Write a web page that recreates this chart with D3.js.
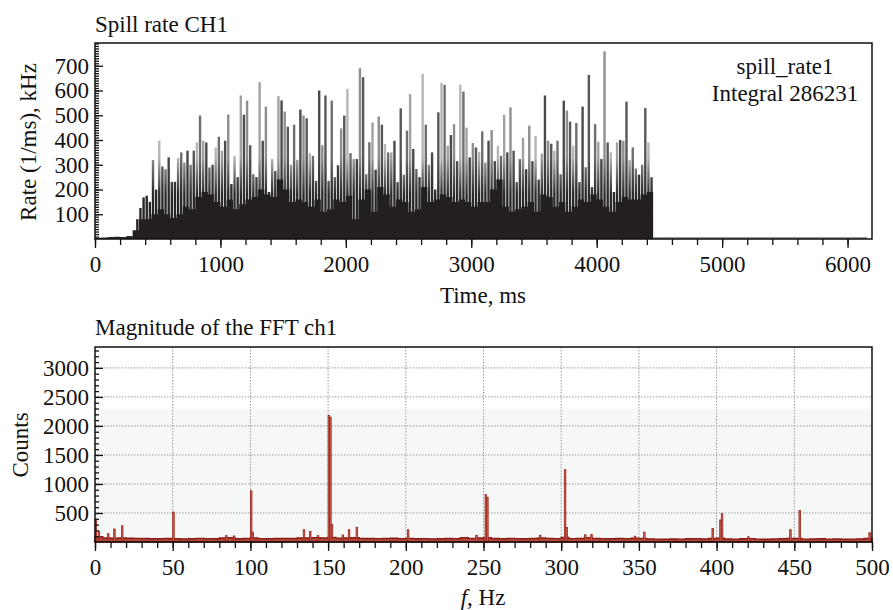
<!DOCTYPE html>
<html>
<head>
<meta charset="utf-8">
<script src="https://cdn.jsdelivr.net/npm/d3@7"></script>
<style>
  body { margin: 0; background: #fff; }
  svg text { font-family: "Liberation Serif", "Times New Roman", serif; fill: #111; }
</style>
</head>
<body>
<div id="chart"></div>
<script>
// ---- spill rate CH1 (kHz) ----
// max rate in each 25 ms bin, starting at 300 ms
const spillStart = 300, spillBin = 25;
const spillPeak = [
  30, 80, 125, 168, 175, 150, 319, 200, 397, 293, 282, 330, 231, 231, 327, 350, 309, 357, 300, 357,
  391, 499, 397, 390, 289, 300, 370, 413, 357, 397, 503, 222, 336, 250, 580, 502, 559, 379, 262, 250,
  634, 397, 535, 190, 323, 275, 577, 560, 515, 454, 300, 462, 320, 523, 499, 488, 347, 336, 235, 600,
  379, 580, 235, 559, 250, 298, 447, 499, 607, 347, 323, 323, 690, 654, 262, 391, 471, 280, 495, 462,
  384, 350, 350, 397, 230, 528, 260, 438, 586, 364, 283, 250, 667, 462, 300, 350, 200, 512, 631, 623,
  377, 420, 464, 315, 624, 596, 450, 330, 388, 370, 352, 435, 309, 397, 440, 315, 377, 336, 502, 350,
  532, 357, 230, 323, 409, 282, 458, 315, 417, 240, 345, 580, 397, 385, 357, 397, 262, 559, 519, 474,
  377, 469, 230, 535, 290, 663, 210, 464, 393, 323, 758, 390, 350, 190, 391, 400, 397, 555, 320, 370,
  285, 260, 300, 529, 390, 250
];
// dark body of the spill, 50 ms bins from 300 ms
const coreBin = 50;
const spillCore = [
  35, 80, 80, 100, 120, 100, 85, 100, 130, 120, 170, 190, 180, 150, 130, 160, 120, 140, 160, 170,
  200, 180, 170, 240, 200, 150, 160, 150, 130, 160, 110, 120, 160, 150, 175, 80, 160, 200, 110, 210,
  180, 130, 160, 150, 110, 120, 210, 150, 160, 180, 170, 150, 160, 150, 130, 150, 150, 200, 240, 130,
  110, 120, 130, 150, 110, 180, 170, 130, 150, 110, 130, 160, 150, 180, 160, 130, 110, 150, 170, 160,
  160, 180, 190
];
// before the spill, 50 ms bins from 0 ms
const preSpill = [5, 6, 8, 9, 8, 12];
const postSpill = 4, postSpillEnd = 6155;
const rateTicks = [100, 200, 300, 400, 500, 600, 700];
const timeTicks = [0, 1000, 2000, 3000, 4000, 5000, 6000];
const histName = "spill_rate1", histIntegral = 286231;

// ---- FFT magnitude ch1 ----
// floor of the spectrum, 5 Hz steps
const fftStep = 5;
const fftBase = [
  90, 70, 65, 70, 65, 62, 60, 55, 58, 60, 55, 52, 55, 62, 58, 55, 70, 72, 55, 60,
  70, 58, 55, 60, 62, 60, 68, 70, 75, 70, 80, 65, 70, 72, 62, 60, 58, 60, 65, 58,
  62, 55, 58, 52, 55, 60, 58, 72, 62, 70, 75, 60, 55, 62, 58, 55, 60, 70, 62, 58,
  80, 58, 62, 75, 62, 58, 55, 60, 58, 65, 62, 52, 50, 48, 52, 50, 55, 58, 52, 60,
  65, 52, 50, 55, 58, 50, 48, 52, 55, 60, 62, 50, 52, 55, 50, 52, 48, 50, 52, 60
];
// single-bin lines (Hz, counts)
const peakFreq = [0, 2, 8, 12, 17, 50, 84, 89, 100, 101, 134, 138, 143, 150, 151, 152, 159, 163, 168, 201,
  245, 251, 252, 286, 302, 303, 315, 319, 347, 353, 397, 402, 403, 420, 447, 453, 498];
const peakCounts = [384, 180, 143, 224, 281, 517, 110, 105, 884, 170, 212, 180, 110, 2178, 2150, 300, 120, 212, 253, 212,
  115, 816, 770, 115, 1247, 250, 125, 130, 100, 170, 233, 380, 488, 90, 212, 545, 160];
const countTicks = [500, 1000, 1500, 2000, 2500, 3000];
const freqTicks = [0, 50, 100, 150, 200, 250, 300, 350, 400, 450, 500];

const W = 893, H = 610;
const svg = d3.select("#chart").append("svg").attr("width", W).attr("height", H);

// ================= top panel =================
let p1 = {left: 95, right: 872, top: 43, bottom: 239};
let x1 = d3.scaleLinear().domain([0, 6195]).range([p1.left, p1.right]);
let y1 = d3.scaleLinear().domain([0, 792]).range([p1.bottom, p1.top]);

// overlapping 1 ms bins look dark near the floor and grey on the tips
let greys = ["#8e8e8e", "#575757", "#b6b6b6", "#6e6e6e", "#a2a2a2", "#4a4a4a"];
let defs = svg.append("defs");
greys.forEach(function (g, i) {
  let grad = defs.append("linearGradient")
    .attr("id", "spike" + i)
    .attr("gradientUnits", "userSpaceOnUse")
    .attr("x1", 0).attr("x2", 0)
    .attr("y1", y1(0)).attr("y2", y1(792));
  grad.append("stop").attr("offset", 0).attr("stop-color", "#231f20");
  grad.append("stop").attr("offset", 180 / 792).attr("stop-color", "#2b2829");
  grad.append("stop").attr("offset", 330 / 792).attr("stop-color", g);
  grad.append("stop").attr("offset", 1).attr("stop-color", g);
});

svg.append("g").selectAll("line")
  .data(spillPeak)
  .enter().append("line")
  .attr("x1", (d, i) => x1(spillStart + (i + 0.5) * spillBin))
  .attr("x2", (d, i) => x1(spillStart + (i + 0.5) * spillBin))
  .attr("y1", y1(0))
  .attr("y2", d => y1(d))
  .attr("stroke", (d, i) => "url(#spike" + (i % greys.length) + ")")
  .attr("stroke-width", 2.4);

let stepArea = d3.area()
  .curve(d3.curveStepAfter)
  .x(d => x1(d[0]))
  .y0(y1(0))
  .y1(d => y1(d[1]));

let corePts = spillCore.map((v, i) => [spillStart + i * coreBin, v]);
corePts.push([spillStart + spillCore.length * coreBin, 0]);
svg.append("path").datum(corePts)
  .attr("d", stepArea)
  .attr("fill", "#231f20");

let prePts = preSpill.map((v, i) => [i * coreBin, v]);
prePts.push([preSpill.length * coreBin, preSpill[preSpill.length - 1]]);
svg.append("path").datum(prePts)
  .attr("d", stepArea)
  .attr("fill", "#2a2a2a");

svg.append("line")
  .attr("x1", x1(spillStart + spillCore.length * coreBin)).attr("x2", x1(postSpillEnd))
  .attr("y1", y1(postSpill)).attr("y2", y1(postSpill))
  .attr("stroke", "#777").attr("stroke-width", 1.5);

// axes
svg.append("g").attr("transform", "translate(0," + p1.bottom + ")")
  .call(d3.axisBottom(x1).tickValues(d3.range(0, 6195, 200)).tickSize(6).tickFormat(""));
svg.append("g").attr("transform", "translate(0," + p1.bottom + ")")
  .call(d3.axisBottom(x1).tickValues(timeTicks).tickSize(9).tickPadding(8).tickFormat(d3.format("d")));
svg.append("g").attr("transform", "translate(" + p1.left + ",0)")
  .call(d3.axisLeft(y1).tickValues(d3.range(10, 792, 10)).tickSizeInner(-4).tickSizeOuter(0).tickFormat(""));
svg.append("g").attr("transform", "translate(" + p1.left + ",0)")
  .call(d3.axisLeft(y1).tickValues(rateTicks).tickSizeInner(-8).tickSizeOuter(0).tickPadding(6).tickFormat(d3.format("d")));

svg.append("rect")
  .attr("x", p1.left).attr("y", p1.top)
  .attr("width", p1.right - p1.left).attr("height", p1.bottom - p1.top)
  .attr("fill", "none").attr("stroke", "#111").attr("stroke-width", 1.5);

svg.append("text").attr("x", 95).attr("y", 32).style("font-size", "23px").text("Spill rate CH1");
svg.append("text").attr("x", 785).attr("y", 74).attr("text-anchor", "middle").style("font-size", "23px").text(histName);
svg.append("text").attr("x", 785).attr("y", 101).attr("text-anchor", "middle").style("font-size", "23px").text("Integral " + histIntegral);
svg.append("text").attr("x", 483).attr("y", 303).attr("text-anchor", "middle").style("font-size", "23px").text("Time, ms");
svg.append("text").attr("transform", "translate(36,142) rotate(-90)").attr("text-anchor", "middle")
  .style("font-size", "23px").text("Rate (1/ms), kHz");

// ================= bottom panel =================
let p2 = {left: 95, right: 872, top: 347, bottom: 542};
let x2 = d3.scaleLinear().domain([0, 500]).range([p2.left, p2.right]);
let y2 = d3.scaleLinear().domain([0, 3360]).range([p2.bottom, p2.top]);

svg.append("rect")
  .attr("x", p2.left).attr("y", y2(2290))
  .attr("width", p2.right - p2.left).attr("height", y2(0) - y2(2290))
  .attr("fill", "#f5f8f7");

// grid
svg.append("g").selectAll("line")
  .data(freqTicks.filter(f => f > 0 && f < 500))
  .enter().append("line")
  .attr("x1", d => x2(d)).attr("x2", d => x2(d))
  .attr("y1", p2.top).attr("y2", p2.bottom)
  .attr("stroke", "#9a9a9a").attr("stroke-width", 1).attr("stroke-dasharray", "1.5,1.5");
svg.append("g").selectAll("line")
  .data(countTicks)
  .enter().append("line")
  .attr("x1", p2.left).attr("x2", p2.right)
  .attr("y1", d => y2(d)).attr("y2", d => y2(d))
  .attr("stroke", "#9a9a9a").attr("stroke-width", 1).attr("stroke-dasharray", "1.5,1.5");

let basePts = fftBase.map((v, i) => [i * fftStep, v]);
basePts.push([500, fftBase[fftBase.length - 1]]);
let fftArea = d3.area()
  .curve(d3.curveStepAfter)
  .x(d => x2(d[0]))
  .y0(y2(0))
  .y1(d => y2(d[1]));
svg.append("path").datum(basePts)
  .attr("d", fftArea)
  .attr("fill", "#b3463b")
  .attr("stroke", "#8c1c12").attr("stroke-width", 1.4);

svg.append("g").selectAll("rect")
  .data(peakFreq)
  .enter().append("rect")
  .attr("x", d => x2(d))
  .attr("width", x2(1) - x2(0))
  .attr("y", (d, i) => y2(peakCounts[i]))
  .attr("height", (d, i) => y2(0) - y2(peakCounts[i]))
  .attr("fill", "#c7675d")
  .attr("stroke", "#9c2418").attr("stroke-width", 0.8);

svg.append("g").attr("transform", "translate(0," + p2.bottom + ")")
  .call(d3.axisBottom(x2).tickValues(d3.range(0, 501, 10)).tickSize(6).tickFormat(""));
svg.append("g").attr("transform", "translate(0," + p2.bottom + ")")
  .call(d3.axisBottom(x2).tickValues(freqTicks).tickSize(9).tickPadding(8).tickFormat(d3.format("d")));
svg.append("g").attr("transform", "translate(" + p2.left + ",0)")
  .call(d3.axisLeft(y2).tickValues(d3.range(100, 3360, 100)).tickSizeInner(-4).tickSizeOuter(0).tickFormat(""));
svg.append("g").attr("transform", "translate(" + p2.left + ",0)")
  .call(d3.axisLeft(y2).tickValues(countTicks).tickSizeInner(-8).tickSizeOuter(0).tickPadding(6).tickFormat(d3.format("d")));

svg.append("rect")
  .attr("x", p2.left).attr("y", p2.top)
  .attr("width", p2.right - p2.left).attr("height", p2.bottom - p2.top)
  .attr("fill", "none").attr("stroke", "#111").attr("stroke-width", 1.5);

svg.append("text").attr("x", 95).attr("y", 335).style("font-size", "23px").text("Magnitude of the FFT ch1");
let fLabel = svg.append("text").attr("x", 483).attr("y", 605).attr("text-anchor", "middle").style("font-size", "23px");
fLabel.append("tspan").style("font-style", "italic").text("f");
fLabel.append("tspan").text(", Hz");
svg.append("text").attr("transform", "translate(28,445) rotate(-90)").attr("text-anchor", "middle")
  .style("font-size", "23px").text("Counts");

// common axis styling
svg.selectAll(".domain").remove();
svg.selectAll(".tick line").attr("stroke", "#111").attr("stroke-width", 1.3);
svg.selectAll(".tick text").style("font-size", "23px").attr("fill", "#111");
</script>
</body>
</html>
